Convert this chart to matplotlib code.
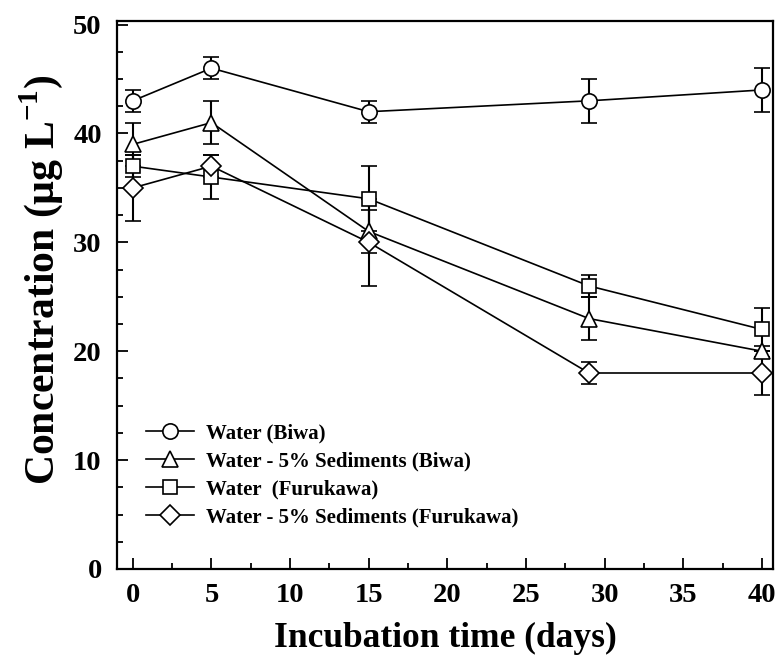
import numpy as np
import matplotlib
matplotlib.use("Agg")
import matplotlib.pyplot as plt
from matplotlib.ticker import MultipleLocator
from matplotlib.lines import Line2D

plt.rcParams['font.family'] = ['Liberation Serif', 'DejaVu Serif']
plt.rcParams['font.weight'] = 'bold'
plt.rcParams['mathtext.fontset'] = 'custom'
plt.rcParams['mathtext.rm'] = 'Liberation Serif:bold'
plt.rcParams['mathtext.bf'] = 'Liberation Serif:bold'

# incubation days and mean concentrations (ug/L) with error bars
days = [0, 5, 15, 29, 40]

water_biwa = [43, 46, 42, 43, 44]
water_biwa_err = [1, 1, 1, 2, 2]

sed_biwa = [39, 41, 31, 23, 20]
sed_biwa_err = [2, 2, 2, 2, 0.5]

water_furu = [37, 36, 34, 26, 22]
water_furu_err = [1, 2, 3, 1, 2]

sed_furu = [35, 37, 30, 18, 18]
sed_furu_err = [3, 1, 4, 1, 2]

labels = ['Water (Biwa)',
          'Water - 5% Sediments (Biwa)',
          'Water  (Furukawa)',
          'Water - 5% Sediments (Furukawa)']

fig = plt.figure(figsize=(7.77, 6.57), dpi=100)
ax = fig.add_axes([0.1506, 0.134, 0.8443, 0.8335])

series = [
    (water_biwa, water_biwa_err, 'o', 11),
    (sed_biwa, sed_biwa_err, '^', 11),
    (water_furu, water_furu_err, 's', 10),
    (sed_furu, sed_furu_err, 'D', 10),
]
handles = []
for (vals, errs, mk, ms), lab in zip(series, labels):
    ax.errorbar(days, vals, yerr=errs, fmt='-', marker=mk, ms=ms,
                mfc='white', mec='black', mew=1.2, color='black', lw=1.2,
                ecolor='black', elinewidth=1.5, capsize=6, capthick=1.5)
    # legend entries show only line + marker, no error bar
    handles.append(Line2D([], [], color='black', lw=1.2, marker=mk, ms=ms,
                          mfc='white', mec='black', mew=1.2, label=lab))

ax.set_xlim(-1, 40.7)
ax.set_ylim(0, 50.3)
ax.xaxis.set_major_locator(MultipleLocator(5))
ax.xaxis.set_minor_locator(MultipleLocator(2.5))
ax.yaxis.set_major_locator(MultipleLocator(10))
ax.yaxis.set_minor_locator(MultipleLocator(2.5))
ax.tick_params(which='both', direction='in', width=1.3)
ax.tick_params(which='major', length=8, labelsize=20.5, pad=11)
ax.tick_params(which='minor', length=4)
ax.tick_params(axis='x', which='major', pad=10)
for lbl in ax.get_xticklabels() + ax.get_yticklabels():
    lbl.set_fontweight('bold')
for sp in ax.spines.values():
    sp.set_linewidth(1.6)

ax.set_xlabel('Incubation time (days)', fontsize=25.5, fontweight='bold', labelpad=10)
ax.set_ylabel('Concentration (\u00b5g L$^{\\mathbf{-1}}$)', fontsize=30,
              fontweight='bold')
ax.yaxis.set_label_coords(-0.08, 0.528)

leg = ax.legend(handles=handles, loc='upper left', bbox_to_anchor=(0.031, 0.281),
                frameon=False, fontsize=15, handlelength=2.3,
                handletextpad=0.6, labelspacing=0.38, borderaxespad=0)
for t in leg.get_texts():
    t.set_fontweight('bold')

fig.savefig('out.png', dpi=100)
